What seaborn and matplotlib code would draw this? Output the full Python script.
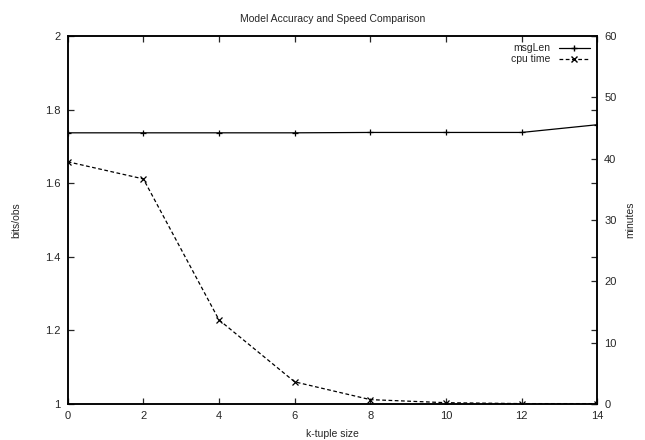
import matplotlib
matplotlib.use("Agg")
import matplotlib.pyplot as plt
import seaborn as sns
import pandas as pd
from matplotlib.lines import Line2D

# values
k_size = [0, 2, 4, 6, 8, 10, 12, 14]
msg_len = [1.737, 1.737, 1.737, 1.737, 1.738, 1.738, 1.738, 1.759]
cpu_minutes = [39.5, 36.7, 13.7, 3.6, 0.7, 0.2, 0.05, 0.05]

df = pd.DataFrame({"k": k_size, "msgLen": msg_len, "cpu": cpu_minutes})

sns.set_style("ticks")
plt.rcParams["font.family"] = ["Liberation Sans", "DejaVu Sans"]
plt.rcParams["font.size"] = 7.5

fig = plt.figure(figsize=(6.45, 4.4), dpi=100)
ax = fig.add_axes([0.105, 0.082, 0.821, 0.836])
ax2 = ax.twinx()

sns.lineplot(
    data=df, x="k", y="msgLen", ax=ax,
    color="black", linewidth=0.9,
    marker="+", markersize=5, markeredgewidth=0.9, markeredgecolor="black"
)
sns.lineplot(
    data=df, x="k", y="cpu", ax=ax2,
    color="black", linewidth=0.9, linestyle=(0, (3, 2)),
    marker="x", markersize=4, markeredgewidth=0.9, markeredgecolor="black"
)

ax.set_xlim(0, 14)
ax.set_ylim(1, 2)
ax2.set_ylim(0, 60)
ax.set_xticks(k_size)
ax.set_yticks([1, 1.2, 1.4, 1.6, 1.8, 2])
ax.set_yticklabels(["1", "1.2", "1.4", "1.6", "1.8", "2"])
ax2.set_yticks([0, 10, 20, 30, 40, 50, 60])

ax.tick_params(direction="in", length=4, width=0.9, top=True, right=True,
               labelsize=8, pad=5)
ax2.tick_params(direction="in", length=4, width=0.9, labelsize=8, pad=5)

for a in (ax, ax2):
    for s in a.spines.values():
        s.set_linewidth(1.1)
        s.set_color("black")

ax.set_title("Model Accuracy and Speed Comparison", fontsize=7.5, pad=10)
ax.set_xlabel("k-tuple size", fontsize=7.5, labelpad=6)
ax.set_ylabel("bits/obs", fontsize=7.5, labelpad=17)
ax2.set_ylabel("minutes", fontsize=7.5, rotation=90, labelpad=6)

handles = [
    Line2D([], [], color="black", linewidth=0.9, marker="+", markersize=5),
    Line2D([], [], color="black", linewidth=0.9, linestyle=(0, (3, 2)),
           marker="x", markersize=4),
]
ax2.legend(handles, ["msgLen", "cpu time"], loc="upper right",
           frameon=False, markerfirst=False, fontsize=7.5,
           handlelength=3, labelspacing=0.1, borderaxespad=0.3,
           handletextpad=0.8)

fig.savefig("out.png", dpi=100)
